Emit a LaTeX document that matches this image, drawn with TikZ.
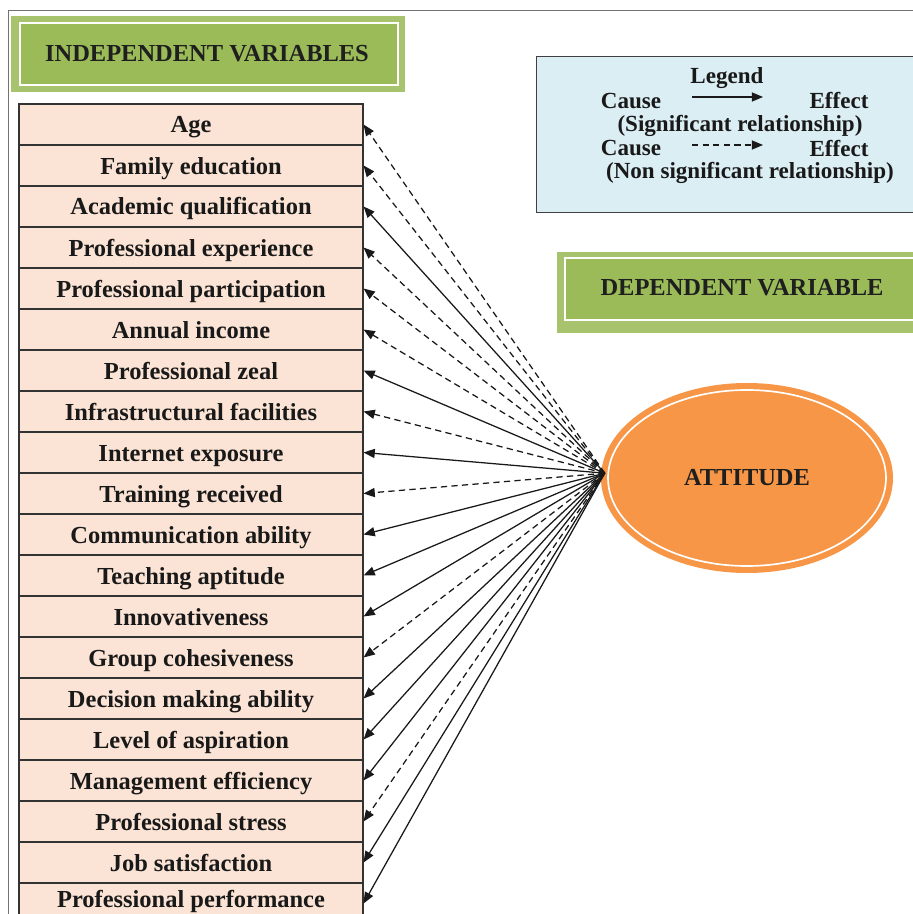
\documentclass[tikz,border=0pt]{standalone}
\usepackage{fontspec}
\setmainfont{Liberation Serif}
\usepackage{xcolor}
\usepackage{tikz}
\usetikzlibrary{arrows.meta, shapes.geometric}
\definecolor{hgreen}{HTML}{9BBB59}
\definecolor{peach}{HTML}{FBE4D5}
\definecolor{lblue}{HTML}{DBEEF4}
\definecolor{aorange}{HTML}{F79646}

\begin{document}
\begin{tikzpicture}[x=1cm, y=1cm,
  varbox/.style={draw=black!80, line width=0.75pt, fill=peach, minimum width=8.6cm,
    minimum height=1.025cm, inner sep=0pt, text height=15pt, text depth=2.9pt,
    font=\fontsize{17.4}{20}\selectfont\bfseries, text=black!90},
  hdrtext/.style={font=\fontsize{17.4}{20}\selectfont\bfseries, text=black!88},
  legtext/.style={font=\fontsize{16.4}{19}\selectfont\bfseries, text=black!90, inner sep=0pt},
  sigarrow/.style={-{Triangle[length=8pt, width=6.5pt]}, line width=0.9pt, draw=black!90},
  nsarrow/.style={sigarrow, dash pattern=on 4.5pt off 3pt}]
\useasboundingbox (0,0) rectangle (22.825,22.85);
\clip (0,0) rectangle (22.825,22.85);
% page frame
\draw[black!55, line width=0.6pt] (0.2,-1) -- (0.2,22.6) -- (24,22.6);
% independent variables header
\fill[hgreen!88!white] (0.275,22.45) rectangle (10.125,20.55);
\fill[hgreen, draw=white, line width=1.3pt] (0.5,22.275) rectangle (9.95,20.725);
\node[hdrtext] (ivhead) at (5.175,21.52) {INDEPENDENT VARIABLES};
% legend
\fill[lblue, draw=black!75, line width=0.7pt] (13.4,21.45) rectangle (23.5,17.55);
\node[legtext] (legtitle) at (18.175,20.9) {Legend};
\node[legtext] (cause1) at (15.775,20.33) {Cause};
\node[legtext] (effect1) at (20.975,20.33) {Effect};
\node[legtext] (sigrel) at (18.5,19.71) {(Significant relationship)};
\node[legtext] (cause2) at (15.775,19.14) {Cause};
\node[legtext] (effect2) at (20.975,19.14) {Effect};
\node[legtext] (nsrel) at (18.75,18.53) {(Non significant relationship)};
\coordinate (sigstart) at (17.3,20.425);
\coordinate (sigend) at (19.075,20.425);
\coordinate (nsstart) at (17.3,19.225);
\coordinate (nsend) at (19.075,19.225);
\draw[sigarrow] (sigstart) -- (sigend);
\draw[nsarrow] (nsstart) -- (nsend);
% dependent variable header
\fill[hgreen!88!white] (13.925,16.55) rectangle (23.5,14.525);
\fill[hgreen, draw=white, line width=1.3pt] (14.125,16.4) rectangle (23.3,14.85);
\node[hdrtext] (dvhead) at (18.55,15.65) {DEPENDENT VARIABLE};
% attitude
\node[ellipse, fill=aorange, minimum width=7.3cm, minimum height=4.75cm, inner sep=0pt,
  hdrtext] (att) at (18.675,10.9) {ATTITUDE};
\draw[white, line width=1.2pt] (att.center) ellipse [x radius=3.475, y radius=2.2];
\coordinate (hub) at ([xshift=0.1cm, yshift=0.12cm]att.west);
% variable boxes
\node[varbox] (age) at (4.775,19.7375) {Age};
\node[varbox] (famedu) at (4.775,18.7125) {Family education};
\node[varbox] (acadq) at (4.775,17.6875) {Academic qualification};
\node[varbox] (profexp) at (4.775,16.6625) {Professional experience};
\node[varbox] (profpart) at (4.775,15.6375) {Professional participation};
\node[varbox] (income) at (4.775,14.6125) {Annual income};
\node[varbox] (zeal) at (4.775,13.5875) {Professional zeal};
\node[varbox] (infra) at (4.775,12.5625) {Infrastructural facilities};
\node[varbox] (inet) at (4.775,11.5375) {Internet exposure};
\node[varbox] (train) at (4.775,10.5125) {Training received};
\node[varbox] (comm) at (4.775,9.4875) {Communication ability};
\node[varbox] (teach) at (4.775,8.4625) {Teaching aptitude};
\node[varbox] (innov) at (4.775,7.4375) {Innovativeness};
\node[varbox] (group) at (4.775,6.4125) {Group cohesiveness};
\node[varbox] (decide) at (4.775,5.3875) {Decision making ability};
\node[varbox] (aspire) at (4.775,4.3625) {Level of aspiration};
\node[varbox] (manage) at (4.775,3.3375) {Management efficiency};
\node[varbox] (stress) at (4.775,2.3125) {Professional stress};
\node[varbox] (jobsat) at (4.775,1.2875) {Job satisfaction};
% last row runs off the page, so its text sits a little higher
\node[varbox, text depth=8.6pt] (perform) at (4.775,0.2625) {Professional performance};
% links from attitude
\draw[nsarrow] (hub) -- (age.east);
\draw[nsarrow] (hub) -- (famedu.east);
\draw[sigarrow] (hub) -- (acadq.east);
\draw[nsarrow] (hub) -- (profexp.east);
\draw[nsarrow] (hub) -- (profpart.east);
\draw[nsarrow] (hub) -- (income.east);
\draw[sigarrow] (hub) -- (zeal.east);
\draw[nsarrow] (hub) -- (infra.east);
\draw[sigarrow] (hub) -- (inet.east);
\draw[nsarrow] (hub) -- (train.east);
\draw[sigarrow] (hub) -- (comm.east);
\draw[sigarrow] (hub) -- (teach.east);
\draw[sigarrow] (hub) -- (innov.east);
\draw[nsarrow] (hub) -- (group.east);
\draw[sigarrow] (hub) -- (decide.east);
\draw[sigarrow] (hub) -- (aspire.east);
\draw[sigarrow] (hub) -- (manage.east);
\draw[nsarrow] (hub) -- (stress.east);
\draw[sigarrow] (hub) -- (jobsat.east);
\draw[sigarrow] (hub) -- (perform.east);
\end{tikzpicture}
\end{document}
